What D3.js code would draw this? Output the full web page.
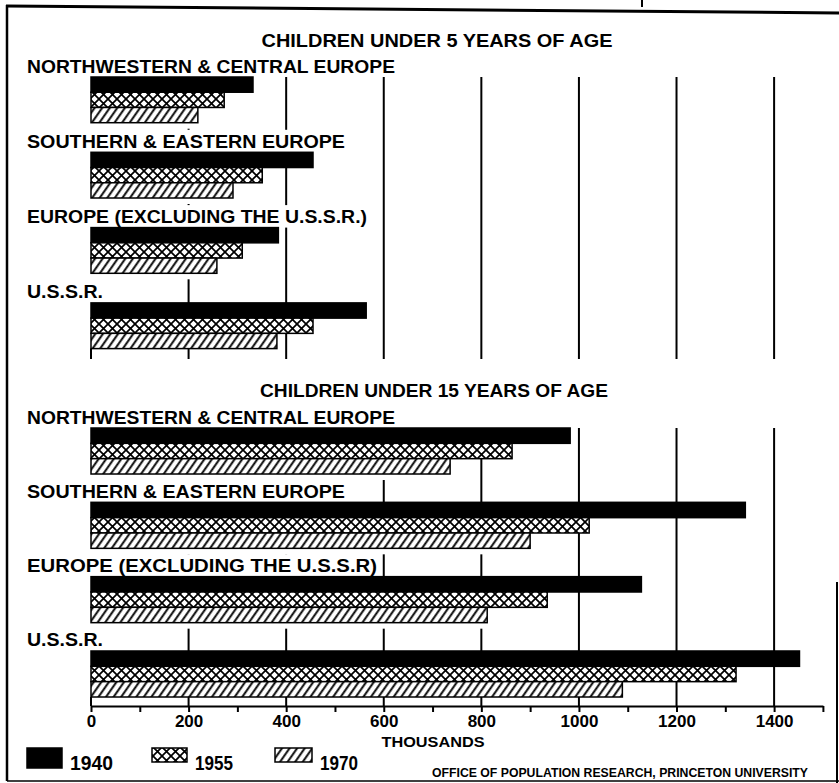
<!DOCTYPE html>
<html><head><meta charset="utf-8">
<script src="https://cdn.jsdelivr.net/npm/d3@7/dist/d3.min.js"></script>
<style>
html,body{margin:0;padding:0;background:#fff;}
svg{display:block;font-family:"Liberation Sans",Arial,sans-serif;font-weight:bold;}
</style></head><body>
<svg id="chart" width="839" height="783"></svg>
<script>
// ---------------- DATA ----------------
const regions5 = ["NORTHWESTERN & CENTRAL EUROPE","SOUTHERN & EASTERN EUROPE","EUROPE (EXCLUDING THE U.S.S.R.)","U.S.S.R."];
const regions15 = ["NORTHWESTERN & CENTRAL EUROPE","SOUTHERN & EASTERN EUROPE","EUROPE (EXCLUDING THE U.S.S.R)","U.S.S.R."];
const years = ["1940","1955","1970"];
const under5_1940 = [332, 455, 384, 564];
const under5_1955 = [273, 351, 310, 455];
const under5_1970 = [219, 291, 258, 381];
const under15_1940 = [982, 1341, 1128, 1452];
const under15_1955 = [863, 1021, 935, 1322];
const under15_1970 = [736, 900, 812, 1089];
const xTicks = [0,200,400,600,800,1000,1200,1400];
const xMinorTicks = [100,300,500,700,900,1100,1300,1500];
const title5 = "CHILDREN UNDER 5 YEARS OF AGE";
const title15 = "CHILDREN UNDER 15 YEARS OF AGE";
const axisTitle = "THOUSANDS";
const credit = "OFFICE OF POPULATION RESEARCH, PRINCETON UNIVERSITY";

// ---------------- LAYOUT ----------------
const FONT = '"Liberation Sans",Arial,sans-serif';
const svg = d3.select("#chart");
const x = d3.scaleLinear().domain([0,1500]).range([91,822.9]);

const defs = svg.append("defs");
const ch = defs.append("pattern").attr("id","cross").attr("patternUnits","userSpaceOnUse")
  .attr("width",9).attr("height",9);
ch.append("rect").attr("width",9).attr("height",9).attr("fill","#fff");
ch.append("path").attr("d","M-1,-1L10,10M10,-1L-1,10").attr("stroke","#000").attr("stroke-width",1.7);
const dg = defs.append("pattern").attr("id","diag").attr("patternUnits","userSpaceOnUse")
  .attr("width",6.2).attr("height",10).attr("patternTransform","rotate(35)");
dg.append("rect").attr("width",6.2).attr("height",10).attr("fill","#fff");
dg.append("line").attr("x1",3).attr("y1",-1).attr("x2",3).attr("y2",11).attr("stroke","#000").attr("stroke-width",1.9);
const fills = {"1940":"#000","1955":"url(#cross)","1970":"url(#diag)"};

function panel(cfg){
  const gridG = svg.append("g"), bgG = svg.append("g"), txtG = svg.append("g"), barG = svg.append("g");
  const y = d3.scaleBand().domain(cfg.labels).range(cfg.yRange).paddingInner(cfg.pad).paddingOuter(0).align(0);
  const ys = d3.scaleBand().domain(years).range([0,y.bandwidth()]).padding(0);
  const rows = cfg.labels.map((lab,i)=>({lab,i,vals:cfg.series.map((s,j)=>({year:years[j],v:s[i]}))}));

  gridG.selectAll("line").data(xTicks.filter(d=>d>0)).join("line")
    .attr("x1",d=>x(d)).attr("x2",d=>x(d)).attr("y1",cfg.yRange[0]).attr("y2",cfg.gridBottom)
    .attr("stroke","#000").attr("stroke-width",2);
  gridG.append("line").attr("x1",x(0)).attr("x2",x(0)).attr("y1",cfg.yRange[1]).attr("y2",cfg.gridBottom)
    .attr("stroke","#000").attr("stroke-width",2);

  bgG.selectAll("rect.g").data(rows.filter(r=>r.i<rows.length-1)).join("rect").attr("class","g")
    .attr("x",x(0)-1).attr("y",r=>y(r.lab))
    .attr("width",r=>x(d3.min(r.vals,v=>v.v))-x(0)+1).attr("height",y.bandwidth()+6).attr("fill","#fff");

  rows.forEach(r=>{
    const t = txtG.append("text").attr("x",27).attr("y",y(r.lab)-4.5).attr("font-size",18)
      .attr("textLength",cfg.labelW[r.i]).attr("lengthAdjust","spacingAndGlyphs").attr("fill","#000").text(r.lab);
    const bb = t.node().getBBox();
    bgG.append("rect").attr("x",bb.x-2).attr("y",bb.y-2).attr("width",bb.width+4)
      .attr("height",y(r.lab)-bb.y+2).attr("fill","#fff");
    barG.selectAll(null).data(r.vals).join("rect")
      .attr("x",x(0)).attr("y",d=>y(r.lab)+ys(d.year))
      .attr("width",d=>x(d.v)-x(0)).attr("height",ys.bandwidth())
      .attr("fill",d=>fills[d.year]).attr("stroke","#000").attr("stroke-width",1.5);
  });

  svg.append("text").attr("x",cfg.titleX).attr("y",cfg.titleY).attr("text-anchor","middle")
    .attr("font-size",19).attr("textLength",cfg.titleW).attr("lengthAdjust","spacingAndGlyphs")
    .attr("fill","#000").text(cfg.title);
}

panel({labels:regions5, series:[under5_1940,under5_1955,under5_1970], yRange:[77,348.6], pad:0.393,
  gridBottom:359, labelW:[368,318,340,76], title:title5, titleX:437, titleY:47, titleW:351});
panel({labels:regions15, series:[under15_1940,under15_1955,under15_1970], yRange:[428,697], pad:0.381,
  gridBottom:706, labelW:[368,318,350,76], title:title15, titleX:434, titleY:397, titleW:348});

// axis
const axisY = 706;
const ax = svg.append("g").attr("transform",`translate(0,${axisY})`)
  .call(d3.axisBottom(x).tickValues(xTicks).tickSize(6).tickSizeOuter(0).tickPadding(3).tickFormat(d3.format("d")));
ax.attr("font-size",17).attr("font-family",FONT).attr("font-weight","bold");
ax.select(".domain").attr("stroke","#000").attr("stroke-width",2);
ax.selectAll(".tick line").attr("stroke","#000").attr("stroke-width",2);
ax.selectAll(".tick text").attr("fill","#000");
const axm = svg.append("g").attr("transform",`translate(0,${axisY})`)
  .call(d3.axisBottom(x).tickValues(xMinorTicks).tickSize(6).tickSizeOuter(0).tickFormat(""));
axm.select(".domain").remove();
axm.selectAll(".tick line").attr("stroke","#000").attr("stroke-width",2);

svg.append("text").attr("x",433).attr("y",746.5).attr("text-anchor","middle").attr("font-size",15)
  .attr("textLength",103).attr("lengthAdjust","spacingAndGlyphs").attr("fill","#000").text(axisTitle);

// legend
const legSwX = [27,152,275], legSwW = [35,35,37], legSwH = [20,14,14], legTxtX = [70,195,320], legTxtW = [43,38,38];
years.forEach((yr,i)=>{
  svg.append("rect").attr("x",legSwX[i]).attr("y",748).attr("width",legSwW[i]).attr("height",legSwH[i])
    .attr("fill",fills[yr]).attr("stroke","#000").attr("stroke-width",1.5);
  svg.append("text").attr("x",legTxtX[i]).attr("y",770).attr("font-size",20)
    .attr("textLength",legTxtW[i]).attr("lengthAdjust","spacingAndGlyphs").attr("fill","#000").text(yr);
});

svg.append("text").attr("x",432).attr("y",777).attr("font-size",13)
  .attr("textLength",376).attr("lengthAdjust","spacingAndGlyphs").attr("fill","#000").text(credit);

// frame
const fr = svg.append("g").attr("fill","none").attr("stroke","#000");
fr.append("path").attr("d","M6,6L839,13").attr("stroke-width",3);
fr.append("path").attr("d","M7,5V781").attr("stroke-width",2.5);
fr.append("path").attr("d","M7,781H839").attr("stroke-width",1.5);
fr.append("path").attr("d","M837,582V783").attr("stroke-width",2);
fr.append("path").attr("d","M642,0V7").attr("stroke-width",2);
</script>
</body></html>
